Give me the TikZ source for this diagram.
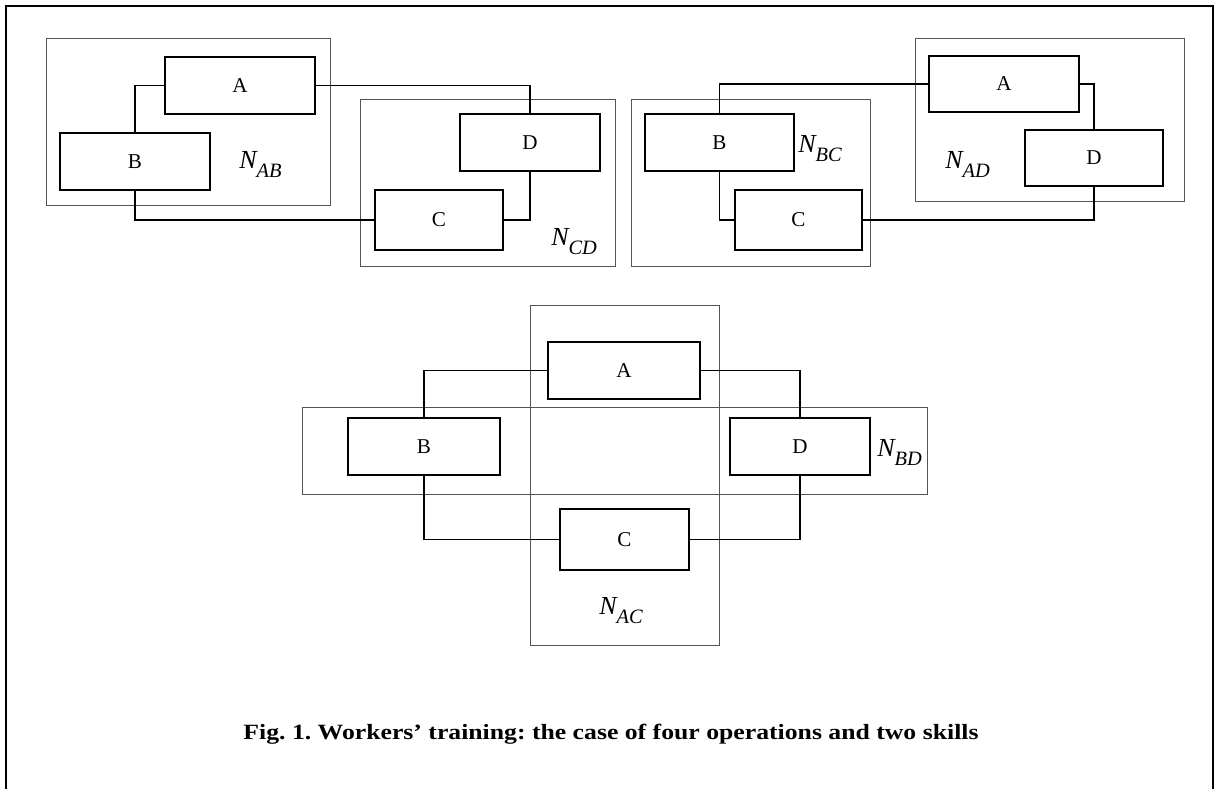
\documentclass[tikz,border=0pt]{standalone}
\usepackage{fontspec}
\setmainfont{Liberation Serif}
\newfontfamily\capfont[FakeStretch=1.18,Ligatures=TeX]{Liberation Serif}
\usetikzlibrary{positioning,fit}
\definecolor{skillgray}{HTML}{555555}
\newcommand{\skillN}[1]{N\raisebox{-6.5pt}{\fontsize{14.5}{15}\selectfont #1}}

\begin{document}
\frenchspacing
\begin{tikzpicture}[x=0.025cm, y=-0.025cm,
  opbox/.style={draw, line width=1.4pt, inner sep=0pt},
  every label/.style={font=\fontsize{15}{18}\selectfont, inner sep=0pt},
  skillbox/.style={draw=skillgray, line width=0.6pt, inner sep=0pt},
  wire/.style={line width=1.3pt},
  skilllab/.style={anchor=base west, inner sep=0pt, font=\fontsize{18.5}{20}\selectfont\itshape}]
\useasboundingbox (0,0) rectangle (1222,789);
\draw[line width=1.5pt] (6,789) -- (6,6) -- (1213,6) -- (1213,789);

% N_AB and N_CD
\node[skillbox, fit={(46,38) (330,205)}] (nab) {};
\node[skillbox, fit={(360,99) (615,266)}] (ncd) {};
\node[opbox, fit={(165,57) (315,114)}, label=center:A] (a1) {};
\node[opbox, fit={(60,133) (210,190)}, label=center:B] (b1) {};
\node[opbox, fit={(375,190) (503,250)}, label=center:C] (c1) {};
\node[opbox, fit={(460,114) (600,171)}, label=center:D] (d1) {};
\node[skilllab] (lab) at (239,168) {\skillN{AB}};
\node[skilllab] (lcd) at (551,245) {\skillN{CD}};
\draw[wire] (b1.north) |- (a1.west);
\draw[wire] (a1.east) -| (d1.north);
\draw[wire] (d1.south) |- (c1.east);
\draw[wire] (c1.west) -| (b1.south);

% N_BC and N_AD
\node[skillbox, fit={(631,99) (870,266)}] (nbc) {};
\node[skillbox, fit={(915,38) (1184,201)}] (nad) {};
\node[opbox, fit={(929,56) (1079,112)}, label=center:A] (a2) {};
\node[opbox, fit={(645,114) (794,171)}, label=center:B] (b2) {};
\node[opbox, fit={(735,190) (862,250)}, label=center:C] (c2) {};
\node[opbox, fit={(1025,130) (1163,186)}, label=center:D] (d2) {};
\node[skilllab] (lbc) at (798,152) {\skillN{BC}};
\node[skilllab] (lad) at (945,168) {\skillN{AD}};
\draw[wire] (b2.north) |- (a2.west);
\draw[wire] (a2.east) -| (d2.north);
\draw[wire] (d2.south) |- (c2.east);
\draw[wire] (c2.west) -| (b2.south);

% N_AC and N_BD
\node[skillbox, fit={(530,305) (719,645)}] (nac) {};
\node[skillbox, fit={(302,407) (927,494)}] (nbd) {};
\node[opbox, fit={(548,342) (700,399)}, label=center:A] (a3) {};
\node[opbox, fit={(348,418) (500,475)}, label=center:B] (b3) {};
\node[opbox, fit={(560,509) (689,570)}, label=center:C] (c3) {};
\node[opbox, fit={(730,418) (870,475)}, label=center:D] (d3) {};
\node[skilllab] (lbd) at (877,456) {\skillN{BD}};
\node[skilllab] (lac) at (599,614) {\skillN{AC}};
\draw[wire] (b3.north) |- (a3.west);
\draw[wire] (a3.east) -| (d3.north);
\draw[wire] (d3.south) |- (c3.east);
\draw[wire] (c3.west) -| (b3.south);

\node[anchor=base, inner sep=0pt, font=\capfont\fontsize{15.5}{18}\selectfont\bfseries] (cap) at (611,739)
  {Fig. 1. Workers’ training: the case of four operations and two skills};
\end{tikzpicture}
\end{document}
